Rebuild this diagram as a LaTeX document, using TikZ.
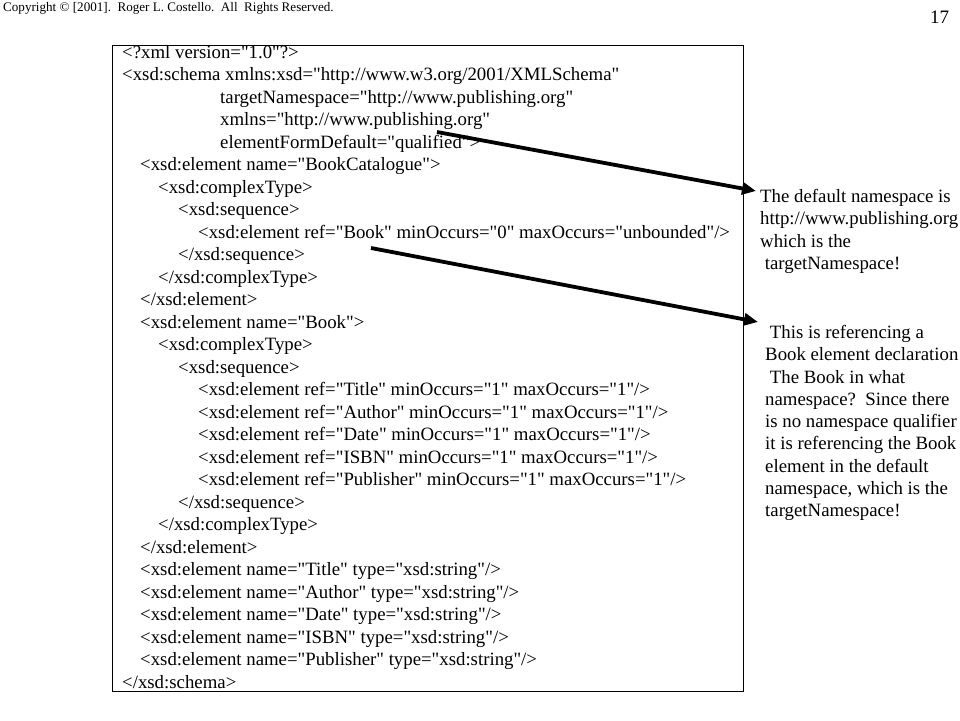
\documentclass[tikz,border=0pt]{standalone}
\usepackage{fontspec}
\setmainfont{Liberation Serif}[Ligatures=TeXOff]
\usetikzlibrary{arrows.meta,positioning}
\tikzset{code/.style={anchor=base west,inner sep=0pt,font=\fontsize{18.8}{22}\selectfont}}
\tikzset{note/.style={anchor=north west,inner sep=0pt,align=left,font=\fontsize{18.8}{22.3}\selectfont}}
\tikzset{pointer/.style={-{Triangle[length=14pt,width=12pt]},line width=3.8pt}}

\begin{document}
\begin{tikzpicture}[x=1pt,y=-1pt]
\useasboundingbox (0,0) rectangle (960,720);
% \draw[help lines] (0,0) grid (960,720);
\node (copy) [anchor=base west,inner sep=0pt,font=\fontsize{13.1}{15}\selectfont] at (3,11.5) {Copyright \textcopyright\ [2001].\ \ Roger L. Costello.\ \ All\ \ Rights Reserved.};
\node (page) [anchor=base west,inner sep=0pt,font=\fontsize{19}{22}\selectfont] at (930,23) {17};
\draw (112,45) rectangle (743,691);
%
\node (c1) [code] at (122,58) {<?xml version="1.0"?>};
\node (c2) [code] at (122,80.5) {<xsd:schema xmlns:xsd="http://www.w3.org/2001/XMLSchema"};
\node (c3) [code] at (220,103) {targetNamespace="http://www.publishing.org"};
\node (c4) [code] at (220,125.5) {xmlns="http://www.publishing.org"};
\node (c5) [code] at (220,148) {elementFormDefault="qualified">};
\node (c6) [code] at (140,170.5) {<xsd:element name="BookCatalogue">};
\node (c7) [code] at (158,193) {<xsd:complexType>};
\node (c8) [code] at (178,215.5) {<xsd:sequence>};
\node (c9) [code] at (198,238) {<xsd:element ref="Book" minOccurs="0" maxOccurs="unbounded"/>};
\node (c10) [code] at (178,260.5) {</xsd:sequence>};
\node (c11) [code] at (158,283) {</xsd:complexType>};
\node (c12) [code] at (140,305.5) {</xsd:element>};
\node (c13) [code] at (140,328) {<xsd:element name="Book">};
\node (c14) [code] at (158,350.5) {<xsd:complexType>};
\node (c15) [code] at (178,373) {<xsd:sequence>};
\node (c16) [code] at (198,395.5) {<xsd:element ref="Title" minOccurs="1" maxOccurs="1"/>};
\node (c17) [code] at (198,418) {<xsd:element ref="Author" minOccurs="1" maxOccurs="1"/>};
\node (c18) [code] at (198,440.5) {<xsd:element ref="Date" minOccurs="1" maxOccurs="1"/>};
\node (c19) [code] at (198,463) {<xsd:element ref="ISBN" minOccurs="1" maxOccurs="1"/>};
\node (c20) [code] at (198,485.5) {<xsd:element ref="Publisher" minOccurs="1" maxOccurs="1"/>};
\node (c21) [code] at (178,508) {</xsd:sequence>};
\node (c22) [code] at (158,530.5) {</xsd:complexType>};
\node (c23) [code] at (140,553) {</xsd:element>};
\node (c24) [code] at (140,575.5) {<xsd:element name="Title" type="xsd:string"/>};
\node (c25) [code] at (140,598) {<xsd:element name="Author" type="xsd:string"/>};
\node (c26) [code] at (140,620.5) {<xsd:element name="Date" type="xsd:string"/>};
\node (c27) [code] at (140,643) {<xsd:element name="ISBN" type="xsd:string"/>};
\node (c28) [code] at (140,665.5) {<xsd:element name="Publisher" type="xsd:string"/>};
\node (c29) [code] at (122,688) {</xsd:schema>};
%
\node (note1) [note] at (760,189) {The default namespace is\\http://www.publishing.org\\which is the\\\ targetNamespace!};
\node (note2) [note] at (765,325) {\ This is referencing a\\Book element declaration\\\ The Book in what\\namespace?\ \ Since there\\is no namespace qualifier\\it is referencing the Book\\element in the default\\namespace, which is the\\targetNamespace!};
%
\coordinate (from1) at (437,132);
\coordinate (from2) at (371,248);
\draw[pointer] (from1) -- ([xshift=-4pt,yshift=-2pt]note1.north west);
\draw[pointer] (from2) -- ([xshift=-7pt,yshift=3pt]note2.north west);
\end{tikzpicture}
\end{document}
